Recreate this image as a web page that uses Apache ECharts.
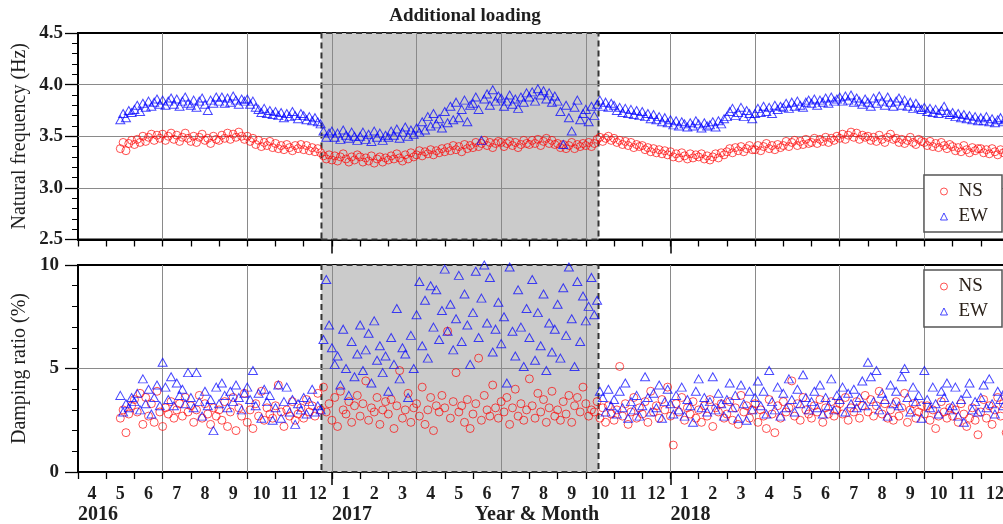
<!DOCTYPE html>
<html><head><meta charset="utf-8">
<script src="https://cdn.jsdelivr.net/npm/echarts@6/dist/echarts.min.js"></script>
<style>html,body{margin:0;padding:0;background:#fff}#c{width:1003px;height:524px}</style>
</head><body><div id="c"></div>
<script>
// Month categories from April 2016 to December 2018 (one category per month)
const monthLabels = ['4','5','6','7','8','9','10','11','12',
  '1','2','3','4','5','6','7','8','9','10','11','12',
  '1','2','3','4','5','6','7','8','9','10','11','12'];
const yearTickIndex = [0, 9, 21];
const yearLabels = ['2016', '2017', '2018'];
// samples: every 0.1 month starting mid-May 2016 (months counted from 2016-04-01)
const firstSampleMonth = 1.5;
const sampleStepMonths = 0.1;
// additional loading period (months from 2016-04-01)
const loadingStart = 8.63;
const loadingEnd = 18.45;

const nsFreq = [
3.38,3.44,3.36,3.43,3.46,
3.42,3.47,3.44,3.50,3.45,3.49,3.52,3.46,3.51,3.48,
3.52,3.46,3.50,3.53,3.47,3.51,3.45,3.49,3.53,3.48,
3.45,3.50,3.44,3.49,3.52,3.46,3.48,3.43,3.50,3.47,
3.46,3.51,3.48,3.53,3.47,3.52,3.49,3.54,3.50,3.47,
3.50,3.45,3.48,3.42,3.46,3.40,3.44,3.41,3.45,3.39,
3.43,3.38,3.41,3.37,3.42,3.39,3.36,3.41,3.38,3.42,
3.37,3.41,3.36,3.39,3.35,3.38,3.34,3.31,3.28,3.32,
3.27,3.31,3.26,3.30,3.33,3.28,3.25,3.30,3.27,3.32,
3.30,3.25,3.29,3.26,3.31,3.24,3.28,3.30,3.25,3.29,
3.27,3.31,3.28,3.33,3.29,3.26,3.32,3.28,3.34,3.30,
3.32,3.36,3.31,3.35,3.33,3.37,3.32,3.36,3.34,3.38,
3.35,3.39,3.36,3.41,3.37,3.40,3.35,3.42,3.38,3.41,
3.39,3.44,3.40,3.43,3.46,3.41,3.44,3.39,3.43,3.45,
3.44,3.40,3.43,3.45,3.41,3.44,3.39,3.42,3.46,3.43,
3.42,3.46,3.43,3.47,3.41,3.45,3.48,3.43,3.46,3.42,
3.43,3.39,3.42,3.38,3.41,3.44,3.38,3.42,3.40,3.43,
3.41,3.44,3.40,3.43,3.47,3.49,3.45,3.48,3.50,3.46,
3.48,3.44,3.46,3.42,3.45,3.41,3.44,3.39,3.42,3.40,
3.41,3.37,3.39,3.35,3.38,3.34,3.37,3.33,3.36,3.32,
3.35,3.30,3.33,3.29,3.34,3.31,3.28,3.33,3.29,3.32,
3.30,3.33,3.28,3.31,3.27,3.30,3.33,3.29,3.34,3.32,
3.35,3.38,3.34,3.39,3.36,3.40,3.35,3.38,3.41,3.37,
3.37,3.41,3.36,3.40,3.43,3.38,3.41,3.37,3.42,3.39,
3.41,3.45,3.40,3.44,3.46,3.41,3.45,3.42,3.47,3.43,
3.44,3.48,3.43,3.47,3.45,3.49,3.44,3.48,3.46,3.50,
3.48,3.52,3.47,3.51,3.54,3.49,3.53,3.47,3.51,3.49,
3.50,3.46,3.49,3.45,3.51,3.47,3.44,3.49,3.52,3.47,
3.48,3.44,3.47,3.43,3.46,3.49,3.44,3.42,3.47,3.45,
3.44,3.41,3.45,3.40,3.43,3.39,3.44,3.41,3.38,3.42,
3.40,3.36,3.39,3.35,3.41,3.37,3.34,3.39,3.36,3.38,
3.38,3.34,3.37,3.33,3.38,3.35,3.32,3.37,3.34,3.36
];
const ewFreq = [
3.66,3.72,3.68,3.75,3.73,
3.76,3.80,3.74,3.82,3.78,3.84,3.79,3.83,3.86,3.81,
3.85,3.80,3.84,3.87,3.81,3.86,3.79,3.84,3.88,3.82,
3.80,3.85,3.78,3.84,3.87,3.81,3.75,3.85,3.82,3.88,
3.84,3.88,3.82,3.87,3.83,3.89,3.85,3.81,3.86,3.84,
3.86,3.81,3.84,3.78,3.76,3.73,3.77,3.72,3.75,3.71,
3.74,3.70,3.73,3.68,3.72,3.69,3.74,3.70,3.67,3.72,
3.70,3.66,3.69,3.65,3.68,3.64,3.62,3.55,3.49,3.53,
3.55,3.49,3.53,3.47,3.56,3.51,3.48,3.54,3.50,3.46,
3.50,3.54,3.47,3.52,3.45,3.55,3.49,3.53,3.46,3.51,
3.49,3.55,3.51,3.57,3.48,3.54,3.59,3.50,3.56,3.52,
3.58,3.54,3.64,3.56,3.69,3.60,3.72,3.62,3.67,3.58,
3.74,3.63,3.79,3.66,3.83,3.68,3.76,3.85,3.64,3.80,
3.82,3.88,3.76,3.46,3.86,3.91,3.80,3.95,3.84,3.89,
3.87,3.79,3.84,3.90,3.81,3.86,3.77,3.88,3.83,3.92,
3.88,3.93,3.84,3.96,3.90,3.94,3.86,3.92,3.83,3.89,
3.84,3.74,3.42,3.80,3.68,3.55,3.78,3.85,3.66,3.72,
3.76,3.64,3.79,3.70,3.81,3.85,3.79,3.83,3.78,3.82,
3.80,3.75,3.78,3.73,3.77,3.72,3.76,3.71,3.75,3.70,
3.74,3.69,3.72,3.67,3.71,3.66,3.69,3.64,3.68,3.63,
3.66,3.61,3.65,3.60,3.64,3.62,3.59,3.63,3.60,3.65,
3.62,3.58,3.63,3.60,3.61,3.64,3.59,3.65,3.62,3.67,
3.69,3.74,3.77,3.70,3.73,3.78,3.69,3.75,3.72,3.67,
3.72,3.77,3.73,3.79,3.74,3.78,3.72,3.80,3.76,3.79,
3.78,3.82,3.77,3.83,3.79,3.84,3.80,3.78,3.83,3.85,
3.82,3.86,3.80,3.85,3.83,3.87,3.82,3.88,3.84,3.86,
3.88,3.84,3.89,3.85,3.90,3.83,3.87,3.84,3.81,3.86,
3.83,3.79,3.87,3.82,3.89,3.84,3.80,3.88,3.83,3.79,
3.84,3.87,3.80,3.85,3.79,3.83,3.77,3.82,3.78,3.76,
3.78,3.74,3.77,3.73,3.76,3.72,3.75,3.79,3.73,3.71,
3.73,3.69,3.72,3.68,3.71,3.67,3.70,3.66,3.69,3.65,
3.68,3.65,3.69,3.64,3.67,3.63,3.66,3.68,3.64,3.67
];
const nsDamp = [
2.6,3.0,1.9,2.8,3.2,
3.5,2.9,3.8,2.3,3.6,2.7,3.3,2.4,3.9,2.9,
2.2,3.1,2.8,3.4,2.6,3.0,3.3,2.7,3.6,2.9,
3.2,2.4,3.0,3.7,2.6,3.3,2.8,2.3,3.1,2.7,
3.0,2.5,3.4,2.2,2.9,3.6,2.0,3.1,2.7,3.8,
2.4,3.0,2.1,3.3,2.7,3.9,2.5,3.1,2.8,2.6,
3.2,4.2,2.9,2.2,3.0,2.7,3.4,2.5,2.8,3.1,
2.6,3.5,2.9,3.2,2.7,3.8,3.0,4.1,2.9,3.3,
2.5,3.6,2.2,3.9,3.0,2.8,3.4,2.4,3.2,3.7,
2.7,3.3,4.4,2.5,3.1,2.9,3.6,2.3,3.0,3.4,
2.8,3.5,2.1,3.2,4.9,2.6,3.0,3.8,2.4,3.1,
3.3,2.7,4.1,2.3,3.0,3.6,2.0,3.2,2.9,3.7,
3.1,6.8,2.6,3.4,4.8,2.9,3.2,2.4,3.5,2.1,
2.8,3.3,5.5,2.5,3.7,3.0,2.7,4.2,3.1,2.6,
3.4,2.9,3.6,2.3,3.1,4.0,2.7,3.3,2.5,3.0,
4.5,3.2,2.6,3.8,2.9,3.5,2.4,3.1,3.9,2.7,
3.0,2.5,3.4,2.8,3.7,2.4,3.2,3.6,2.9,4.1,
3.3,2.7,3.0,2.9,3.4,2.6,3.1,2.4,3.2,2.8,
2.5,3.0,5.1,2.7,3.3,2.3,2.9,3.6,2.6,3.1,
2.8,3.4,2.4,3.9,2.9,3.2,2.6,3.5,3.0,4.1,
2.7,1.3,3.3,2.9,3.6,2.5,3.1,2.8,3.4,2.6,
3.0,2.4,3.2,2.7,3.5,2.2,3.1,2.9,3.3,2.6,
2.8,3.4,2.5,3.1,2.3,3.7,2.9,3.2,2.6,3.0,
3.3,2.4,3.0,2.7,2.1,3.5,2.8,1.9,3.2,2.6,
3.4,2.9,3.1,4.4,2.7,3.3,2.5,3.6,3.0,2.8,
2.6,3.2,2.9,3.5,2.4,3.1,2.8,3.4,2.7,3.0,
3.3,2.8,3.6,2.5,3.1,2.9,3.4,2.6,3.2,3.7,
2.9,3.5,2.7,3.2,3.9,2.8,3.3,2.6,3.0,2.5,
3.4,2.7,3.1,3.8,2.4,3.0,3.3,2.6,2.9,3.2,
2.8,3.2,2.5,3.0,2.1,2.7,3.4,2.9,2.6,3.1,
2.7,3.0,2.4,3.3,2.8,2.2,2.6,3.1,2.5,1.8,
2.9,3.5,2.6,3.2,2.3,3.0,3.6,2.7,3.3,1.9
];
const ewDamp = [
3.7,2.9,3.3,3.1,3.6,
3.4,3.8,3.0,4.5,3.3,4.0,2.8,3.6,4.2,3.2,
5.3,4.1,3.5,4.6,3.2,4.3,3.7,4.0,3.3,4.8,
3.6,3.1,4.8,3.4,2.7,3.9,3.2,3.5,2.0,4.1,
3.3,4.3,3.7,3.1,3.9,3.4,4.2,3.6,3.0,3.8,
4.1,3.5,4.9,3.2,3.8,2.6,4.0,3.4,3.7,2.5,
3.1,4.2,2.6,3.4,4.1,2.9,3.5,2.3,3.3,3.0,
3.6,2.8,3.4,4.0,2.9,3.2,3.0,6.4,9.3,7.1,
6.0,5.2,5.6,4.2,6.9,5.0,3.7,6.3,4.6,5.7,
7.1,4.9,5.9,6.7,4.3,7.3,5.4,6.1,4.8,5.6,
3.9,6.5,5.2,7.9,4.5,6.0,5.7,3.6,6.6,5.0,
7.6,9.2,6.1,8.3,5.5,9.0,7.0,8.8,6.4,7.8,
9.8,6.8,8.1,5.9,7.4,9.5,6.3,8.6,7.1,5.2,
7.7,9.7,6.5,8.4,10.0,7.2,9.4,5.8,6.9,8.2,
6.2,7.5,4.3,9.9,6.8,5.6,8.8,7.0,5.1,7.9,
6.5,9.3,5.4,7.7,6.1,8.6,4.9,7.2,5.8,6.9,
8.1,5.5,8.9,6.6,9.9,7.4,5.1,9.2,6.3,8.5,
7.3,8.0,9.4,7.6,8.3,3.9,3.6,2.9,4.0,3.2,
3.5,2.8,3.9,3.1,4.3,2.6,3.4,3.0,3.7,2.7,
3.2,4.6,3.6,2.9,3.8,3.1,4.2,2.6,3.4,4.0,
3.3,2.8,3.7,3.0,4.1,2.7,3.5,3.2,2.4,3.9,
4.5,3.1,3.6,2.9,3.4,4.6,3.0,3.8,3.3,2.7,
3.5,4.3,3.1,3.7,2.6,4.2,3.3,2.5,3.9,3.0,
3.6,4.4,3.2,3.9,2.8,4.9,3.4,3.0,4.1,2.7,
3.8,3.1,4.5,3.5,2.9,4.0,3.3,4.7,3.6,3.0,
3.4,3.9,3.1,4.2,2.8,3.6,3.2,4.5,3.0,3.7,
3.5,4.1,2.9,3.8,3.3,4.0,3.1,3.6,4.4,3.2,
5.3,4.6,3.4,4.9,3.0,3.8,3.5,2.7,4.2,3.3,
3.9,3.2,4.6,5.0,3.6,2.9,4.1,3.4,3.7,2.6,
4.9,3.5,3.1,4.1,3.3,2.8,3.9,3.6,4.3,3.0,
3.2,4.1,2.7,3.5,2.4,3.8,4.3,3.0,3.4,2.9,
3.6,4.2,3.1,4.5,3.3,2.8,3.9,3.5,3.2,4.0
];

const FONT = 'Liberation Serif';
const TXT = '#1e1e1e';
const monthCount = monthLabels.length;
const toPts = arr => arr.map((v, i) => [+(firstSampleMonth + i * sampleStepMonths).toFixed(2), v]);

const nsStyle = {color: 'rgba(255,255,255,0)', borderColor: 'rgba(255,0,0,0.85)', borderWidth: 1};
const ewStyle = {color: 'rgba(255,255,255,0)', borderColor: 'rgba(0,0,255,0.9)', borderWidth: 1};

function xAxesFor(g, bottom) {
  return [
    {
      type: 'value', gridIndex: g, min: 0, max: monthCount, interval: 1, show: bottom, position: 'bottom',
      axisLine: {show: false}, axisTick: {show: false}, splitLine: {show: false},
      axisLabel: bottom ? {
        show: true, margin: 33, align: 'left', fontFamily: FONT, fontWeight: 'bold', fontSize: 20, color: TXT,
        formatter: v => { const k = yearTickIndex.indexOf(Math.round(v)); return k >= 0 ? yearLabels[k] : ''; }
      } : {show: false},
      name: bottom ? 'Year & Month' : '', nameLocation: 'middle', nameGap: 33, nameMoveOverlap: false,
      nameTextStyle: {fontFamily: FONT, fontWeight: 'bold', fontSize: 20, color: TXT, padding: [0, 13, 0, 0]}
    },
    {
      type: 'category', gridIndex: g, data: monthLabels, boundaryGap: true, position: 'bottom', z: 0,
      axisLine: {show: true, lineStyle: {color: '#000', width: 2}},
      axisTick: {show: true, interval: 0, length: 7, lineStyle: {color: '#000', width: 1.3}},
      axisLabel: bottom ? {show: true, interval: 0, margin: 13, fontFamily: FONT, fontWeight: 'bold', fontSize: 18, color: TXT} : {show: false},
      splitLine: {show: false}
    },
    {
      type: 'category', gridIndex: g, data: monthLabels, boundaryGap: true, position: 'bottom', z: 2,
      axisLine: {show: false},
      axisTick: {show: true, interval: i => i > 0 && yearTickIndex.indexOf(i) >= 0, length: bottom ? 13 : 14, lineStyle: {color: '#000', width: 1.5}},
      axisLabel: {show: false},
      splitLine: {show: true, interval: i => i > 0 && i % 3 === 0, lineStyle: {color: '#8a8a8a', width: 1}}
    }
  ];
}

function yAxesFor(g, min, max, interval, name, margin, fmt) {
  return [
    {
      type: 'value', gridIndex: g, min, max, interval, position: 'left', z: 0,
      axisLine: {show: true, lineStyle: {color: '#000', width: 2}},
      axisTick: {show: true, length: 13, lineStyle: {color: '#000', width: 1.3}},
      minorTick: {show: true, splitNumber: 5, length: 6, lineStyle: {color: '#000', width: 1}},
      splitLine: {show: false},
      axisLabel: {margin, fontFamily: FONT, fontWeight: 'bold', fontSize: 19, color: TXT, formatter: fmt},
      name, nameLocation: 'middle', nameRotate: 90, nameGap: 48, nameMoveOverlap: false,
      nameTextStyle: {fontFamily: FONT, fontSize: 20, color: TXT}
    },
    {
      type: 'value', gridIndex: g, min, max, interval, position: 'left', z: 2,
      axisLine: {show: false}, axisTick: {show: false}, axisLabel: {show: false},
      splitLine: {show: true, showMinLine: false, showMaxLine: false, lineStyle: {color: '#8a8a8a', width: 1}}
    }
  ];
}

function legendFor(top) {
  return {
    orient: 'vertical', right: 1, top, itemWidth: 7, itemHeight: 7, itemGap: 6,
    padding: [7, 14, 6, 16], borderColor: '#555', borderWidth: 1.5, backgroundColor: '#fff', z: 10,
    textStyle: {fontFamily: FONT, fontSize: 19, color: '#2a2018', padding: [0, 0, 0, 6]},
    data: [
      {name: 'NS', icon: 'circle', itemStyle: nsStyle},
      {name: 'EW', icon: 'triangle', itemStyle: ewStyle}
    ]
  };
}

function shade(xi, yi, y0, y1) {
  return {
    type: 'scatter', name: 'loading', xAxisIndex: xi, yAxisIndex: yi, data: [], z: 1, silent: true,
    markArea: {
      silent: true, z: 1,
      itemStyle: {color: '#cbcbcb', borderColor: '#333', borderWidth: 2, borderType: [6, 4]},
      data: [[{xAxis: loadingStart, yAxis: y0}, {xAxis: loadingEnd, yAxis: y1}]]
    }
  };
}

const gridBase = {left: 78, right: -6, show: true, borderColor: '#000', borderWidth: 2,
  backgroundColor: 'rgba(0,0,0,0)', containLabel: false, outerBoundsMode: 'none'};

const chart = echarts.init(document.getElementById('c'), null, {renderer: 'canvas'});
chart.setOption({
  animation: false,
  backgroundColor: '#fff',
  title: {text: 'Additional loading', left: 465, top: 7, textAlign: 'center', padding: 0,
    textStyle: {fontFamily: FONT, fontWeight: 'bold', fontSize: 19, color: TXT}},
  legend: [legendFor(175), legendFor(270)],
  grid: [
    Object.assign({}, gridBase, {top: 33, height: 206.5}),
    Object.assign({}, gridBase, {top: 265, height: 207})
  ],
  xAxis: [...xAxesFor(0, false), ...xAxesFor(1, true)],
  yAxis: [
    ...yAxesFor(0, 2.5, 4.5, 0.5, 'Natural frequency (Hz)', 15, v => v.toFixed(1)),
    ...yAxesFor(1, 0, 10, 5, 'Damping ratio (%)', 19, v => String(v))
  ],
  series: [
    shade(0, 0, 2.5, 4.5),
    shade(3, 2, 0, 10),
    {type: 'scatter', name: 'NS', xAxisIndex: 0, yAxisIndex: 0, data: toPts(nsFreq), symbol: 'circle', symbolSize: 8, itemStyle: nsStyle, z: 3},
    {type: 'scatter', name: 'EW', xAxisIndex: 0, yAxisIndex: 0, data: toPts(ewFreq), symbol: 'triangle', symbolSize: [9, 8], itemStyle: ewStyle, z: 3},
    {type: 'scatter', name: 'NS', xAxisIndex: 3, yAxisIndex: 2, data: toPts(nsDamp), symbol: 'circle', symbolSize: 8, itemStyle: nsStyle, z: 3},
    {type: 'scatter', name: 'EW', xAxisIndex: 3, yAxisIndex: 2, data: toPts(ewDamp), symbol: 'triangle', symbolSize: [9, 8], itemStyle: ewStyle, z: 3}
  ]
});
</script>
</body></html>
